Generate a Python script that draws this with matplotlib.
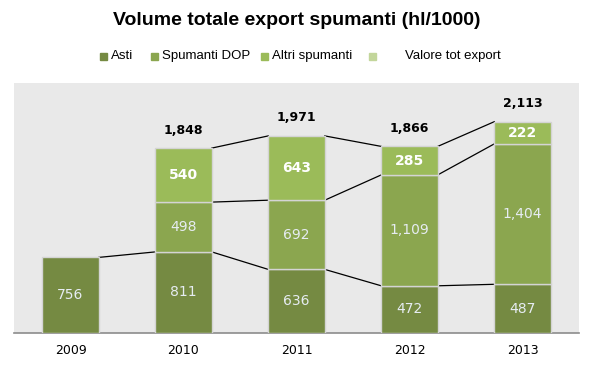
import matplotlib
matplotlib.use("Agg")
import matplotlib.pyplot as plt
from matplotlib.patches import Rectangle
import numpy as np

years = ["2009", "2010", "2011", "2012", "2013"]
asti = [756, 811, 636, 472, 487]
dop = [0, 498, 692, 1109, 1404]
altri = [0, 540, 643, 285, 222]
totals = [None, 1848, 1971, 1866, 2113]

series_names = ["Asti", "Spumanti DOP", "Altri spumanti", "Valore tot export"]
c_asti = "#758a42"
c_dop = "#8ba64f"
c_altri = "#9bbb59"
c_tot = "#c3d69b"

fig = plt.figure(figsize=(5.94, 3.67), dpi=100)
ax = fig.add_axes([14/594, 1 - 333/367, 565/594, 250/367])
ax.set_facecolor("#e9e9e9")

x = np.arange(len(years))
w = 0.5
edge = "#d4d4d4"
asti_a = np.array(asti)
dop_a = np.array(dop)
altri_a = np.array(altri)

ax.bar(x, asti_a, w, color=c_asti, edgecolor=edge, linewidth=1, zorder=3)
ax.bar(x[1:], dop_a[1:], w, bottom=asti_a[1:], color=c_dop, edgecolor=edge,
       linewidth=1, zorder=3)
ax.bar(x[1:], altri_a[1:], w, bottom=(asti_a + dop_a)[1:], color=c_altri,
       edgecolor=edge, linewidth=1, zorder=3)

# series lines between bars
lvl1 = asti_a
lvl2 = asti_a + dop_a
lvl3 = asti_a + dop_a + altri_a
for i in range(len(years) - 1):
    ax.plot([x[i] + w/2, x[i+1] - w/2], [lvl1[i], lvl1[i+1]], color="black",
            lw=0.9, zorder=2)
    if i >= 1:
        ax.plot([x[i] + w/2, x[i+1] - w/2], [lvl2[i], lvl2[i+1]],
                color="black", lw=0.9, zorder=2)
        ax.plot([x[i] + w/2, x[i+1] - w/2], [lvl3[i], lvl3[i+1]],
                color="black", lw=0.9, zorder=2)

# labels
light = "#e6ecf2"
for i in range(len(years)):
    ax.text(x[i], asti_a[i]/2, f"{asti[i]:,}", ha="center", va="center",
            color=light, fontsize=10, zorder=4)
    if dop[i]:
        ax.text(x[i], asti_a[i] + dop_a[i]/2, f"{dop[i]:,}", ha="center",
                va="center", color=light, fontsize=10, zorder=4)
    if altri[i]:
        ax.text(x[i], lvl2[i] + altri_a[i]/2, f"{altri[i]:,}", ha="center",
                va="center", color="white", fontsize=10, fontweight="bold",
                zorder=4)
    if totals[i]:
        ax.annotate(f"{totals[i]:,}", (x[i], lvl3[i]), xytext=(0, 13),
                    textcoords="offset points", ha="center", va="center",
                    fontsize=9, fontweight="bold", color="black")

ax.set_xlim(-0.5, 4.5)
ax.set_ylim(0, 2500)
ax.set_yticks([])
ax.set_xticks(x)
ax.set_xticklabels(years, fontsize=9)
ax.tick_params(axis="x", length=0, pad=8)
for s in ["top", "right", "left"]:
    ax.spines[s].set_visible(False)
ax.spines["bottom"].set_color("#8c8c8c")
ax.spines["bottom"].set_linewidth(1.2)

fig.text(0.5, 0.945, "Volume totale export spumanti (hl/1000)", ha="center",
         va="center", fontsize=14, fontweight="bold",
         family="Liberation Sans")

# legend, placed by hand
leg_y = 1 - 56/367
marks = [100, 151, 261, 369]
texts = [111, 162, 272, 405]
for name, col, mx, tx in zip(series_names, [c_asti, c_dop, c_altri, c_tot],
                             marks, texts):
    fig.patches.append(Rectangle((mx/594, leg_y - 3.5/367), 7/594, 7/367,
                                 transform=fig.transFigure, color=col))
    fig.text(tx/594, leg_y, name, ha="left", va="center", fontsize=9.5,
             family="Liberation Sans")

fig.savefig("out.png", dpi=100)
